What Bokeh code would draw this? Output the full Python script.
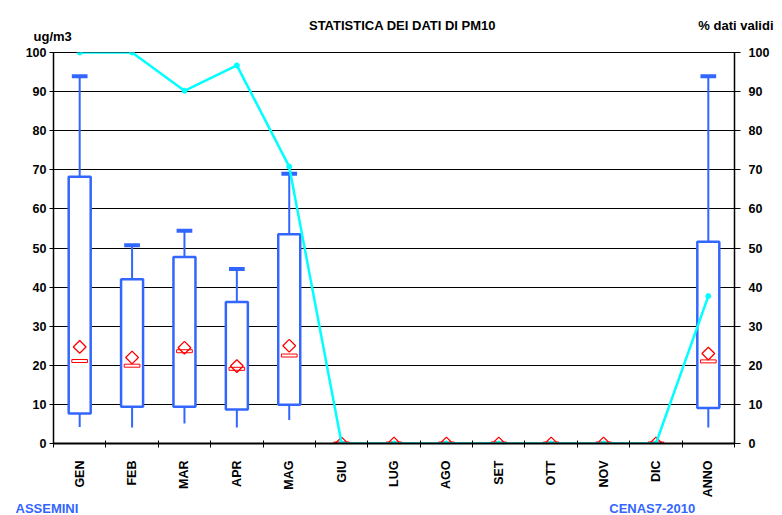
import math
from bokeh.plotting import figure
from bokeh.models import Range1d, LinearAxis, FixedTicker, Label
from bokeh.embed import file_html
from bokeh.resources import INLINE

nan = float("nan")

months = ["GEN", "FEB", "MAR", "APR", "MAG", "GIU", "LUG", "AGO", "SET", "OTT", "NOV", "DIC", "ANNO"]
whisker_low = [4.2, 4.1, 5.1, 4.1, 6.0, nan, nan, nan, nan, nan, nan, nan, 4.1]
q1 = [7.7, 9.4, 9.4, 8.7, 9.9, nan, nan, nan, nan, nan, nan, nan, 9.1]
median = [21.1, 19.9, 23.6, 19.1, 22.5, 0, 0, 0, 0, 0, 0, 0, 21.0]
q3 = [68.2, 42.0, 47.7, 36.2, 53.5, nan, nan, nan, nan, nan, nan, nan, 51.6]
whisker_high = [93.9, 50.7, 54.4, 44.6, 69.0, nan, nan, nan, nan, nan, nan, nan, 93.9]
mean = [24.7, 22.0, 24.5, 19.8, 25.0, 0, 0, 0, 0, 0, 0, 0, 23.0]
pct_valid = [100, 100, 90.2, 96.7, 70.8, 0, 0, 0, 0, 0, 0, 0, 37.7]
y_ticks = [0, 10, 20, 30, 40, 50, 60, 70, 80, 90, 100]

BLUE = "#3366FF"
CYAN = "#00FFFF"
FONT = "Liberation Sans"
W, H = 782, 515

xs = list(range(len(months)))
bounds = [i - 0.5 for i in range(len(months) + 1)]

p = figure(width=W, height=H, output_backend="svg", toolbar_location=None,
           x_range=Range1d(-0.5, len(months) - 0.5), y_range=Range1d(0, 100),
           min_border_left=53, min_border_right=48, min_border_top=52, min_border_bottom=72,
           background_fill_color="white", border_fill_color="white")
p.extra_y_ranges = {"pct": Range1d(0, 100)}
p.title.visible = False
p.outline_line_color = "black"
p.xgrid.visible = False
p.ygrid.grid_line_color = "black"
p.ygrid.grid_line_width = 1
p.ygrid.ticker = FixedTicker(ticks=y_ticks)

# x axis
xa = p.xaxis[0]
xa.ticker = FixedTicker(ticks=xs, minor_ticks=bounds)
xa.major_label_overrides = {i: m for i, m in enumerate(months)}
xa.major_tick_in = 0
xa.major_tick_out = 0
xa.minor_tick_in = 3
xa.minor_tick_out = 4
xa.minor_tick_line_color = "black"
xa.axis_line_color = "black"
xa.axis_line_width = 2
xa.major_label_orientation = math.pi / 2
xa.major_label_standoff = 13
xa.major_label_text_font = FONT
xa.major_label_text_font_style = "bold"
xa.major_label_text_font_size = "12.5px"
xa.major_label_text_color = "black"

# left axis
ya = p.yaxis[0]
ya.ticker = FixedTicker(ticks=y_ticks)
ya.minor_tick_line_color = None
ya.major_tick_in = 0
ya.major_tick_out = 4
ya.major_label_standoff = 3
ya.axis_line_color = "black"
ya.axis_line_width = 1.5

# right axis
ra = LinearAxis(y_range_name="pct", ticker=FixedTicker(ticks=y_ticks))
ra.minor_tick_line_color = None
ra.major_tick_in = 0
ra.major_tick_out = 6
ra.major_label_standoff = 8
ra.axis_line_color = "black"
ra.axis_line_width = 1.5
p.add_layout(ra, "right")

for ax in (ya, ra):
    ax.major_label_text_font = FONT
    ax.major_label_text_font_style = "bold"
    ax.major_label_text_font_size = "12.5px"
    ax.major_label_text_color = "black"
    ax.major_tick_line_color = "black"

# box plots
p.segment(x0=xs, x1=xs, y0=whisker_low, y1=q1, line_color=BLUE, line_width=2)
p.segment(x0=xs, x1=xs, y0=q3, y1=whisker_high, line_color=BLUE, line_width=2)
p.segment(x0=[x - 0.15 for x in xs], x1=[x + 0.15 for x in xs], y0=whisker_high, y1=whisker_high,
          line_color=BLUE, line_width=4, line_cap="butt")
p.quad(left=[x - 0.21 for x in xs], right=[x + 0.21 for x in xs], bottom=q1, top=q3,
       fill_color="white", line_color=BLUE, line_width=2.5)
p.rect(x=xs, y=median, width=0.3, height=3, height_units="screen",
       fill_color="white", line_color="red", line_width=1)
p.scatter(x=xs, y=mean, marker="square", angle=math.pi / 4, size=9,
          fill_alpha=0, line_color="red", line_width=1.3)

# percent valid data
p.line(x=xs, y=pct_valid, y_range_name="pct", line_color=CYAN, line_width=2.5)
p.scatter(x=xs, y=pct_valid, y_range_name="pct", size=5, color=CYAN)

def lab(text, x, y, side, align="left", color="black", size="13px"):
    p.add_layout(Label(x=x, y=y, x_units="canvas", y_units="canvas", text=text,
                       text_font=FONT, text_font_style="bold", text_font_size=size,
                       text_color=color, text_align=align, text_baseline="alphabetic"), side)

lab("STATISTICA DEI DATI DI PM10", 402, 24.5, "above", align="center")
lab("ug/m3", 33, 36, "above")
lab("% dati validi", 773, 24.5, "above", align="right")
lab("ASSEMINI" + "\u00a0" * 147 + "CENAS7-2010", 15, 507.5, "below", color=BLUE)

open("out.html", "w").write(file_html(p, INLINE))
